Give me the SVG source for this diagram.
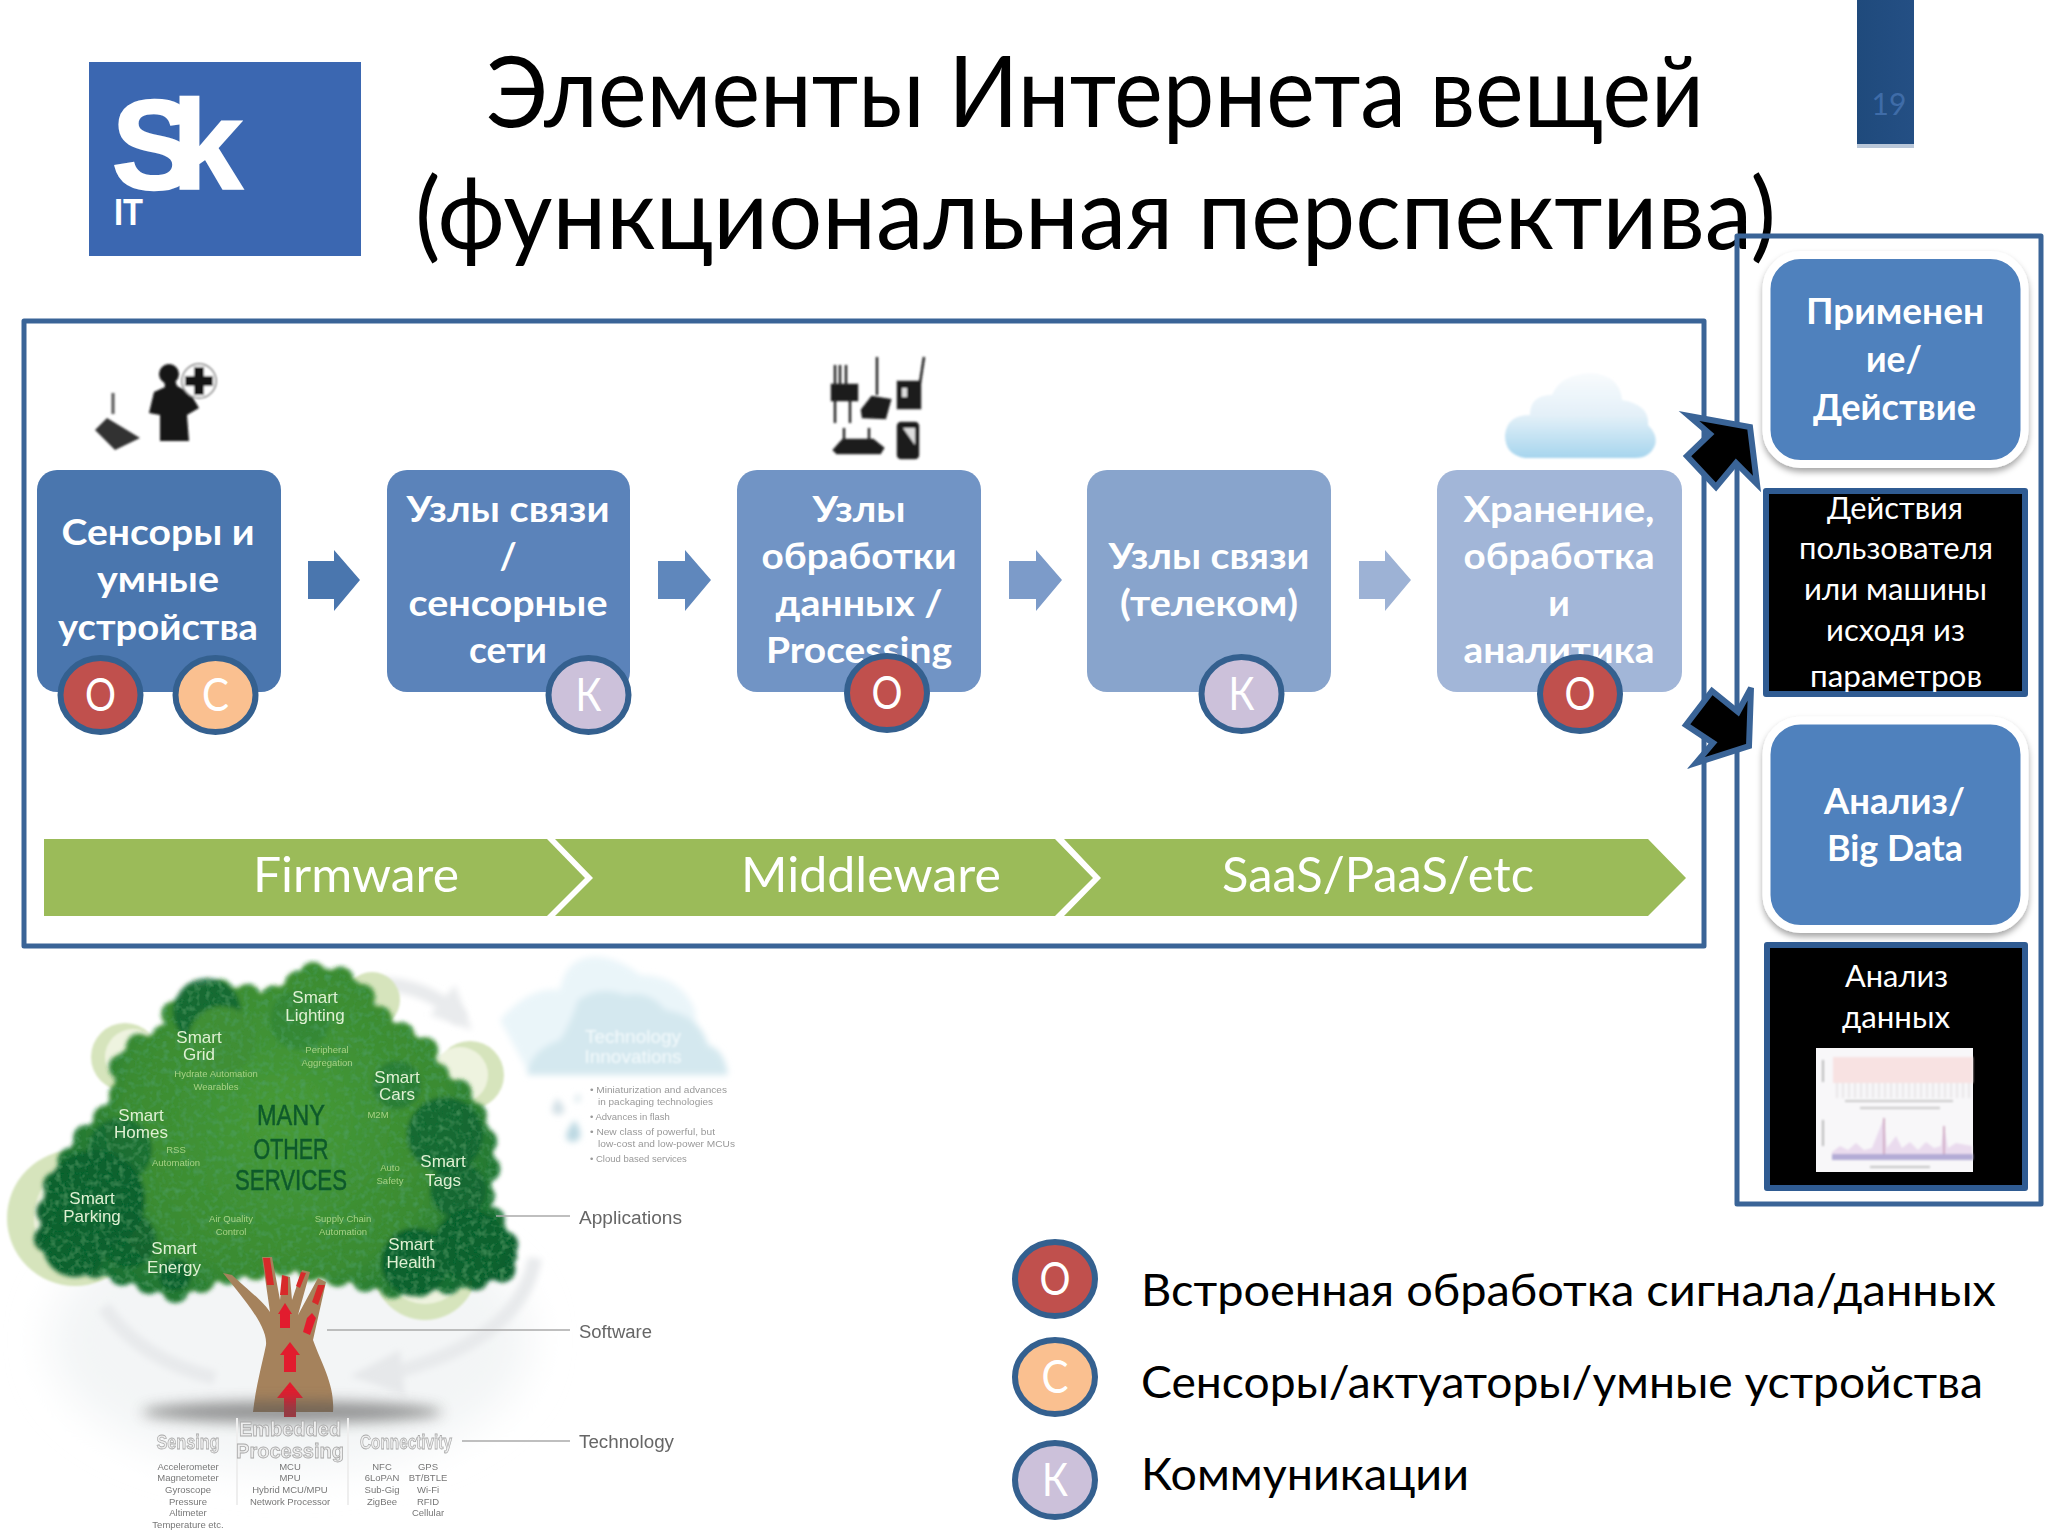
<svg xmlns="http://www.w3.org/2000/svg" width="2048" height="1536" viewBox="0 0 2048 1536">
<defs>
<style>
text{font-family:Lato,"Open Sans","Noto Sans","DejaVu Sans",sans-serif}
.mid{text-anchor:middle}
.title{font-size:98px;fill:#000}
.lbl{font-size:37px;font-weight:700;fill:#fff;text-anchor:middle}
.note{font-size:30px;fill:#fff;text-anchor:middle}
.chev{font-size:49px;fill:#fff;text-anchor:middle}
.leg{font-size:44px;fill:#000}
.bd{fill:none;stroke:#3a6497;stroke-width:5;stroke-linejoin:round}
.dot{stroke:#34608f;stroke-width:6}
.dl{font-size:46px;fill:#fff;text-anchor:middle}
.o{fill:#c0504d}.c{fill:#fac090}.k{fill:#ccc1da}
.blk{fill:#000;stroke:#2f5b92;stroke-width:6;stroke-linejoin:round}
.app{fill:#4f81bd;stroke:#fff;stroke-width:8}
.ba{fill:#000;stroke:#3a6497;stroke-width:6;stroke-linejoin:miter}
.green{fill:#9bbb59}
.tl{font-family:"Liberation Sans",sans-serif;font-size:17px;fill:#dff0d2;text-anchor:middle}
.ts{font-family:"Liberation Sans",sans-serif;font-size:9.5px;fill:#a6d184;text-anchor:middle}
.tm{font-family:"Liberation Sans",sans-serif;font-size:29px;fill:#0d5a2b;stroke:#0d5a2b;stroke-width:.5;text-anchor:middle}
.side{font-family:"Liberation Sans",sans-serif;font-size:18px;fill:#666}
.rt{font-family:"Liberation Sans",sans-serif;font-size:20px;font-weight:700;fill:#eee;stroke:#aaa;stroke-width:.8;text-anchor:middle}
.rs{font-family:"Liberation Sans",sans-serif;font-size:9.5px;fill:#777;text-anchor:middle}
.cb{font-family:"Liberation Sans",sans-serif;font-size:9.5px;fill:#999}
.dk{fill:#10622f}.gh{fill:#d6e4bc}
.ic{fill:#141414}
</style>
<filter id="b1" x="-10%" y="-10%" width="120%" height="120%"><feGaussianBlur stdDeviation="1.2"/></filter>
<filter id="b2" x="-10%" y="-10%" width="120%" height="120%"><feGaussianBlur stdDeviation=".7"/></filter>
<filter id="b3" x="-20%" y="-20%" width="140%" height="140%"><feGaussianBlur stdDeviation="3"/></filter>
<filter id="b6" x="-20%" y="-100%" width="140%" height="300%"><feGaussianBlur stdDeviation="7"/></filter>
<filter id="b20" x="-30%" y="-30%" width="160%" height="160%"><feGaussianBlur stdDeviation="20"/></filter>
<filter id="sh" x="-10%" y="-10%" width="120%" height="125%"><feDropShadow dx="0" dy="4" stdDeviation="3" flood-color="#000" flood-opacity=".35"/></filter>
<filter id="leaf" x="-5%" y="-5%" width="110%" height="110%">
<feGaussianBlur in="SourceGraphic" stdDeviation="2" result="s"/>
<feTurbulence type="fractalNoise" baseFrequency=".16" numOctaves="2" seed="4" result="n"/>
<feColorMatrix in="n" type="matrix" values="0 0 0 0 .08  0 0 0 0 .36  0 0 0 0 .14  0 0 0 1.3 -.6" result="d"/>
<feComposite in="d" in2="s" operator="in" result="t"/>
<feMerge><feMergeNode in="s"/><feMergeNode in="t"/></feMerge>
</filter>
<radialGradient id="crown" gradientUnits="userSpaceOnUse" cx="285" cy="1115" r="262"><stop offset="0" stop-color="#479a35"/><stop offset=".62" stop-color="#3a8b33"/><stop offset=".88" stop-color="#1a7032"/><stop offset="1" stop-color="#0e5f2e"/></radialGradient>
<linearGradient id="cl" x1="0" y1="0" x2="0" y2="1"><stop offset="0" stop-color="#f8fbfd"/><stop offset=".5" stop-color="#e3f0f8"/><stop offset="1" stop-color="#a6d5ee"/></linearGradient>
<linearGradient id="tab" x1="0" y1="0" x2="1" y2="0"><stop offset="0" stop-color="#1f4a7c"/><stop offset="1" stop-color="#244f84"/></linearGradient>
</defs>
<rect width="2048" height="1536" fill="#fff"/>

<g id="logo">
<rect x="89" y="62" width="272" height="194" fill="#3b67b1"/>
<text x="112" y="189" font-size="126" fill="#fff" stroke="#fff" stroke-width="2.500" letter-spacing="-24" style="font-family:'Liberation Sans',sans-serif;font-weight:700">Sk</text>
<text x="114" y="225" font-size="37" font-weight="700" fill="#fff" textLength="29" lengthAdjust="spacingAndGlyphs" style="font-family:'Liberation Sans',sans-serif">IT</text>
</g>

<g id="title">
<text class="title" x="486" y="127" textLength="1218" lengthAdjust="spacingAndGlyphs">Элементы Интернета вещей</text>
<text class="title" x="415" y="249" textLength="1361" lengthAdjust="spacingAndGlyphs">(функциональная перспектива)</text>
</g>

<g id="page-tab">
<rect x="1857" y="0" width="57" height="148" fill="#b9c7d9"/>
<rect x="1857" y="0" width="57" height="144" fill="url(#tab)"/>
<text x="1889" y="115" class="mid" font-size="30" fill="#3f6ca8">19</text>
</g>

<rect id="frame-main" class="bd" x="24" y="321" width="1680" height="625"/>
<rect id="frame-right" class="bd" x="1737" y="236" width="304" height="968"/>

<g id="icon-sensors">
<g filter="url(#b1)">
<circle class="ic" cx="169" cy="374" r="10"/>
<path class="ic" d="M164 380L175 380L177 386L190 393L199 408L187 415L189 441L160 441L160 415L149 413L154 392L165 387Z"/>
<circle cx="199" cy="381" r="17" fill="#fff" stroke="#777" stroke-width="1.5"/>
<path class="ic" d="M194 367h10v9h9v10h-9v9h-10v-9h-9v-10h9z"/>
<path d="M113 393V414" stroke="#555" stroke-width="3"/>
<path d="M95 430L107 418L140 438L115 450Z" fill="#333"/>
</g>
</g>

<g id="icon-devices">
<g filter="url(#b1)" stroke="#222" stroke-width="2.5" fill="#1c1c1c">
<path d="M835 365V423M840 365V385M846 365V385M850 400V423" fill="none"/>
<rect x="832" y="385" width="25" height="15"/>
<path d="M877 357V395" fill="none"/>
<path d="M862 410L872 397L890 400L885 418L863 417Z"/>
<rect x="898" y="382" width="22" height="26"/>
<path d="M920 383L924 357" fill="none"/>
<rect x="902" y="388" width="5" height="9" fill="#ddd" stroke="none"/>
<path d="M844 428V440M869 428V440" fill="none"/>
<path d="M834 450L843 440L873 440L883 448L880 453L837 453Z"/>
<rect x="898" y="423" width="20" height="35" rx="3"/>
<path d="M903 428H915V445Z" fill="#ddd" stroke="none"/>
</g>
</g>

<g id="icon-cloud">
<path d="M1525 458Q1505 455 1505 435Q1507 415 1530 415Q1530 395 1552 395Q1560 375 1590 373Q1620 375 1622 400Q1650 405 1648 425Q1658 435 1655 445Q1650 458 1635 458Z" fill="url(#cl)" filter="url(#b1)"/>
</g>

<g id="node-sensors">
<rect x="37" y="470" width="244" height="222" rx="20" fill="#4a76ae"/>
<text class="lbl" x="158" y="545" textLength="193" lengthAdjust="spacingAndGlyphs">Сенсоры и</text>
<text class="lbl" x="158" y="592" textLength="122" lengthAdjust="spacingAndGlyphs">умные</text>
<text class="lbl" x="158" y="640" textLength="200" lengthAdjust="spacingAndGlyphs">устройства</text>
</g>
<g id="node-comm">
<rect x="387" y="470" width="243" height="222" rx="20" fill="#5b83ba"/>
<text class="lbl" x="508" y="522" textLength="203" lengthAdjust="spacingAndGlyphs">Узлы связи</text>
<text class="lbl" x="508" y="569">/</text>
<text class="lbl" x="508" y="616" textLength="199" lengthAdjust="spacingAndGlyphs">сенсорные</text>
<text class="lbl" x="508" y="663" textLength="78" lengthAdjust="spacingAndGlyphs">сети</text>
</g>
<g id="node-processing">
<rect x="737" y="470" width="244" height="222" rx="20" fill="#7194c5"/>
<text class="lbl" x="859" y="522" textLength="93" lengthAdjust="spacingAndGlyphs">Узлы</text>
<text class="lbl" x="859" y="569" textLength="195" lengthAdjust="spacingAndGlyphs">обработки</text>
<text class="lbl" x="859" y="616" textLength="167" lengthAdjust="spacingAndGlyphs">данных /</text>
<text class="lbl" x="859" y="663" textLength="186" lengthAdjust="spacingAndGlyphs">Processing</text>
</g>
<g id="node-telecom">
<rect x="1087" y="470" width="244" height="222" rx="20" fill="#88a4cc"/>
<text class="lbl" x="1209" y="569" textLength="201" lengthAdjust="spacingAndGlyphs">Узлы связи</text>
<text class="lbl" x="1209" y="616" textLength="178" lengthAdjust="spacingAndGlyphs">(телеком)</text>
</g>
<g id="node-storage">
<rect x="1437" y="470" width="245" height="222" rx="20" fill="#a2b6d8"/>
<text class="lbl" x="1559" y="522" textLength="191" lengthAdjust="spacingAndGlyphs">Хранение,</text>
<text class="lbl" x="1559" y="569" textLength="191" lengthAdjust="spacingAndGlyphs">обработка</text>
<text class="lbl" x="1559" y="616">и</text>
<text class="lbl" x="1559" y="663" textLength="191" lengthAdjust="spacingAndGlyphs">аналитика</text>
</g>

<g id="badges">
<ellipse class="dot o" cx="100.5" cy="695" rx="40" ry="37"/><text class="dl" x="100.5" y="711" textLength="31" lengthAdjust="spacingAndGlyphs">О</text>
<ellipse class="dot c" cx="215.5" cy="695" rx="40" ry="37"/><text class="dl" x="215.5" y="711" textLength="27" lengthAdjust="spacingAndGlyphs">С</text>
<ellipse class="dot k" cx="588.5" cy="695" rx="40" ry="37"/><text class="dl" x="588.5" y="711" textLength="26" lengthAdjust="spacingAndGlyphs">К</text>
<ellipse class="dot o" cx="887" cy="693" rx="40" ry="37"/><text class="dl" x="887" y="709" textLength="31" lengthAdjust="spacingAndGlyphs">О</text>
<ellipse class="dot k" cx="1241.5" cy="694" rx="40" ry="37"/><text class="dl" x="1241.5" y="710" textLength="26" lengthAdjust="spacingAndGlyphs">К</text>
<ellipse class="dot o" cx="1580" cy="694" rx="40" ry="37"/><text class="dl" x="1580" y="710" textLength="31" lengthAdjust="spacingAndGlyphs">О</text>
</g>

<g id="lifecycle-bar">
<path class="green" d="M44 839H547L585 878L547 916H44Z"/>
<path class="green" d="M555 839H1055L1093 878L1055 916H555L593 878Z"/>
<path class="green" d="M1064 839H1648L1686 878L1648 916H1064L1101 878Z"/>
<text class="chev" x="356" y="892" textLength="206" lengthAdjust="spacingAndGlyphs">Firmware</text>
<text class="chev" x="871" y="892" textLength="260" lengthAdjust="spacingAndGlyphs">Middleware</text>
<text class="chev" x="1378" y="892" textLength="312" lengthAdjust="spacingAndGlyphs">SaaS/PaaS/etc</text>
</g>

<g id="node-action">
<rect class="app" x="1766.500" y="255" width="258" height="209" rx="34" filter="url(#sh)"/>
<text class="lbl" x="1895" y="324" textLength="178" lengthAdjust="spacingAndGlyphs">Применен</text>
<text class="lbl" x="1894" y="372" textLength="56" lengthAdjust="spacingAndGlyphs">ие/</text>
<text class="lbl" x="1894.500" y="420" textLength="163" lengthAdjust="spacingAndGlyphs">Действие</text>
</g>
<g id="note-action">
<rect class="blk" x="1766" y="491" width="259" height="203"/>
<text class="note" x="1895" y="519" textLength="136" lengthAdjust="spacingAndGlyphs">Действия</text>
<text class="note" x="1896" y="559" textLength="194" lengthAdjust="spacingAndGlyphs">пользователя</text>
<text class="note" x="1895.500" y="600" textLength="183" lengthAdjust="spacingAndGlyphs">или машины</text>
<text class="note" x="1895.500" y="641" textLength="139" lengthAdjust="spacingAndGlyphs">исходя из</text>
<text class="note" x="1896" y="687" textLength="172" lengthAdjust="spacingAndGlyphs">параметров</text>
</g>
<g id="node-analysis">
<rect class="app" x="1766.500" y="720.500" width="258" height="208.500" rx="34" filter="url(#sh)"/>
<text class="lbl" x="1894.500" y="814" textLength="141" lengthAdjust="spacingAndGlyphs">Анализ/</text>
<text class="lbl" x="1895" y="861" textLength="136" lengthAdjust="spacingAndGlyphs">Big Data</text>
</g>
<g id="note-analysis">
<rect class="blk" x="1767" y="945" width="258" height="243"/>
<text class="note" x="1896.500" y="987" textLength="103" lengthAdjust="spacingAndGlyphs">Анализ</text>
<text class="note" x="1896" y="1028" textLength="108" lengthAdjust="spacingAndGlyphs">данных</text>
<g id="chart">
<rect x="1816" y="1048" width="157" height="124" fill="#f8f7f9"/>
<g filter="url(#b1)">
<rect x="1833" y="1057" width="140" height="26" fill="#f8e2e2"/>
<path d="M1837 1083V1098M1843 1083V1098M1849 1083V1098M1855 1083V1098M1861 1083V1098M1867 1083V1098M1873 1083V1098M1879 1083V1098M1885 1083V1098M1891 1083V1098M1897 1083V1098M1903 1083V1098M1909 1083V1098M1915 1083V1098M1921 1083V1098M1927 1083V1098M1933 1083V1098M1939 1083V1098M1945 1083V1098M1951 1083V1098M1957 1083V1098M1963 1083V1098M1969 1083V1098" stroke="#d8d3d6" stroke-width="1"/>
<path d="M1845 1101H1953M1860 1108H1940" stroke="#bbb" stroke-width="1.500"/>
<rect x="1822" y="1060" width="2" height="22" fill="#bbb"/>
<rect x="1822" y="1120" width="2" height="26" fill="#bbb"/>
<path d="M1832 1152L1840 1146L1848 1150L1856 1143L1864 1150L1872 1148L1884 1118L1887 1148L1896 1136L1902 1148L1910 1142L1918 1150L1926 1142L1934 1148L1941 1146L1944 1126L1948 1148L1956 1143L1972 1146V1156H1832Z" fill="#eadbee"/>
<path d="M1884 1156V1118M1944 1156V1126" stroke="#c79ab6" stroke-width="1.500"/>
<rect x="1832" y="1154" width="141" height="6" fill="#b4acd6"/>
<path d="M1870 1167H1930" stroke="#c4c4c4" stroke-width="2"/>
</g>
</g>
</g>

<g id="legend">
<g id="legend-o"><ellipse class="dot o" cx="1055" cy="1279" rx="40" ry="37"/><text class="dl" x="1055" y="1295" textLength="31" lengthAdjust="spacingAndGlyphs">О</text>
<text class="leg" x="1141" y="1306" textLength="855" lengthAdjust="spacingAndGlyphs">Встроенная обработка сигнала/данных</text></g>
<g id="legend-c"><ellipse class="dot c" cx="1055" cy="1377" rx="40" ry="37"/><text class="dl" x="1055" y="1393" textLength="27" lengthAdjust="spacingAndGlyphs">С</text>
<text class="leg" x="1141" y="1398" textLength="842" lengthAdjust="spacingAndGlyphs">Сенсоры/актуаторы/умные устройства</text></g>
<g id="legend-k"><ellipse class="dot k" cx="1055" cy="1480" rx="40" ry="37"/><text class="dl" x="1055" y="1496" textLength="26" lengthAdjust="spacingAndGlyphs">К</text>
<text class="leg" x="1141" y="1490" textLength="328" lengthAdjust="spacingAndGlyphs">Коммуникации</text></g>
</g>

<g id="iot-tree">
<ellipse cx="290" cy="1340" rx="240" ry="130" fill="#f3f5f6" filter="url(#b20)"/>
<g fill="none" stroke="#e8eaec" stroke-width="14" filter="url(#b3)">
<path d="M104 1307Q140 1360 215 1378"/>
<path d="M535 1258Q520 1340 395 1372"/>
<path d="M379 984Q430 985 462 1020"/>
</g>
<path d="M350 1376L400 1350L405 1395Z" fill="#e6e8ea" filter="url(#b3)"/>
<path d="M455 985L472 1030L430 1015Z" fill="#e9ebed" filter="url(#b3)"/>
<g filter="url(#b1)">
<circle class="gh" cx="75" cy="1218" r="68"/>
<circle cx="92" cy="1218" r="58" fill="#eef3df"/>
<circle class="gh" cx="125" cy="1057" r="34"/>
<circle cx="133" cy="1057" r="28" fill="#eef3df"/>
<circle class="gh" cx="470" cy="1075" r="34"/>
<circle cx="460" cy="1075" r="28" fill="#eef3df"/>
<circle class="gh" cx="372" cy="1000" r="28"/>
<circle class="gh" cx="425" cy="1268" r="52"/>
<circle cx="425" cy="1262" r="42" fill="#eef3df"/>
</g>
<g filter="url(#leaf)">
<path id="crown-fill" fill="url(#crown)" stroke="url(#crown)" stroke-width="14" stroke-linejoin="round" d="M313 975C340 975 358 985 368 1008L385 1025L425 1050L435 1075L462 1095L482 1130L488 1165L480 1205L498 1228L510 1256L502 1270L466 1280L438 1282L395 1286L350 1275L327 1273L290 1262L219 1273L176 1290L131 1275L70 1258L46 1238L52 1192L82 1142L105 1120L122 1095L122 1062L140 1046L172 1035L175 1008L207 990L248 997L268 1002Z"/>
<path id="crown-edge" fill="none" stroke="url(#crown)" stroke-width="26" stroke-linecap="round" stroke-dasharray="0 28" d="M313 975C340 975 358 985 368 1008L385 1025L425 1050L435 1075L462 1095L482 1130L488 1165L480 1205L498 1228L510 1256L502 1270L466 1280L438 1282L395 1286L350 1275L327 1273L290 1262L219 1273L176 1290L131 1275L70 1258L46 1238L52 1192L82 1142L105 1120L122 1095L122 1062L140 1046L172 1035L175 1008L207 990L248 997L268 1002Z"/>
<circle class="dk" cx="207" cy="1012" r="34" opacity=".8"/>
<circle cx="222" cy="1040" r="34" fill="#3f8f34"/>
<circle class="dk" cx="95" cy="1200" r="50"/>
<circle class="dk" cx="75" cy="1245" r="32"/>
<circle class="dk" cx="128" cy="1240" r="28" opacity=".9"/>
<circle class="dk" cx="120" cy="1150" r="32" opacity=".7"/>
<circle class="dk" cx="445" cy="1135" r="38" opacity=".8"/>
<circle class="dk" cx="458" cy="1190" r="28" opacity=".8"/>
<circle class="dk" cx="470" cy="1245" r="36"/>
<circle class="dk" cx="415" cy="1262" r="34"/>
<circle cx="397" cy="1085" r="24" fill="#2c7e35"/>
<circle cx="300" cy="1020" r="30" fill="#2f8236" opacity=".6"/>
<circle cx="175" cy="1275" r="16" class="dk"/>
</g>
<g filter="url(#b2)">
<path d="M253 1412C256 1385 262 1365 266 1345C268 1325 240 1295 223 1273L232 1275C250 1292 262 1300 270 1312L262 1257L272 1257L280 1300L283 1275L290 1277L292 1300L302 1270L310 1272L298 1315L318 1278L326 1282L313 1340C322 1365 335 1385 333 1412Z" fill="#a5825c"/>
<path d="M290 1382L303 1398H296V1417H284V1398H277Z" fill="#e21f2d"/>
<path d="M290 1342L300 1355H296V1372H284V1355H280Z" fill="#e21f2d"/>
<path d="M285 1303L292 1314H290V1328H280V1314H278Z" fill="#e21f2d"/>
<path d="M312 1313L316 1318L310 1335L303 1332L307 1318Z" fill="#e21f2d"/>
<path d="M263 1258L270 1258L274 1285L267 1285Z" fill="#d72b2b"/>
<path d="M282 1275L288 1277L288 1295L280 1295Z" fill="#d72b2b"/>
<path d="M301 1272L306 1273L300 1288L296 1286Z" fill="#d72b2b"/>
<path d="M318 1285L325 1285L318 1305L312 1302Z" fill="#d72b2b"/>
</g>
<ellipse cx="292" cy="1412" rx="150" ry="11" fill="#555" opacity=".6" filter="url(#b6)"/>
<path d="M237 1418V1505M348 1418V1505" stroke="#eee" stroke-width="2"/>
<path d="M496 1216H570M327 1330H570M462 1441H570" stroke="#aaa" stroke-width="1.500" fill="none"/>
<g filter="url(#b2)">
<text class="tl" x="315" y="1003">Smart</text><text class="tl" x="315" y="1021">Lighting</text>
<text class="tl" x="199" y="1043">Smart</text><text class="tl" x="199" y="1060">Grid</text>
<text class="tl" x="397" y="1083">Smart</text><text class="tl" x="397" y="1100">Cars</text>
<text class="tl" x="141" y="1121">Smart</text><text class="tl" x="141" y="1138">Homes</text>
<text class="tl" x="443" y="1167">Smart</text><text class="tl" x="443" y="1186">Tags</text>
<text class="tl" x="92" y="1204">Smart</text><text class="tl" x="92" y="1222">Parking</text>
<text class="tl" x="174" y="1254">Smart</text><text class="tl" x="174" y="1273">Energy</text>
<text class="tl" x="411" y="1250">Smart</text><text class="tl" x="411" y="1268">Health</text>
<text class="tm" x="291" y="1125" textLength="68" lengthAdjust="spacingAndGlyphs">MANY</text>
<text class="tm" x="291" y="1159" textLength="75" lengthAdjust="spacingAndGlyphs">OTHER</text>
<text class="tm" x="291" y="1190" textLength="112" lengthAdjust="spacingAndGlyphs">SERVICES</text>
<text class="ts" x="327" y="1053">Peripheral</text><text class="ts" x="327" y="1066">Aggregation</text>
<text class="ts" x="216" y="1077">Hydrate Automation</text><text class="ts" x="216" y="1090">Wearables</text>
<text class="ts" x="378" y="1118">M2M</text>
<text class="ts" x="176" y="1153">RSS</text><text class="ts" x="176" y="1166">Automation</text>
<text class="ts" x="390" y="1171">Auto</text><text class="ts" x="390" y="1184">Safety</text>
<text class="ts" x="231" y="1222">Air Quality</text><text class="ts" x="231" y="1235">Control</text>
<text class="ts" x="343" y="1222">Supply Chain</text><text class="ts" x="343" y="1235">Automation</text>
<text class="side" x="579" y="1224" textLength="103" lengthAdjust="spacingAndGlyphs">Applications</text>
<text class="side" x="579" y="1338" textLength="73" lengthAdjust="spacingAndGlyphs">Software</text>
<text class="side" x="579" y="1448" textLength="95" lengthAdjust="spacingAndGlyphs">Technology</text>
<text class="rt" x="188" y="1449" textLength="63" lengthAdjust="spacingAndGlyphs">Sensing</text>
<text class="rt" x="290" y="1436">Embedded</text>
<text class="rt" x="290" y="1458">Processing</text>
<text class="rt" x="406" y="1449" textLength="92" lengthAdjust="spacingAndGlyphs">Connectivity</text>
</g>
<g filter="url(#b2)">
<text class="rs" x="188" y="1470">Accelerometer</text><text class="rs" x="188" y="1481">Magnetometer</text><text class="rs" x="188" y="1493">Gyroscope</text><text class="rs" x="188" y="1505">Pressure</text><text class="rs" x="188" y="1516">Altimeter</text><text class="rs" x="188" y="1528">Temperature etc.</text>
<text class="rs" x="290" y="1470">MCU</text><text class="rs" x="290" y="1481">MPU</text><text class="rs" x="290" y="1493">Hybrid MCU/MPU</text><text class="rs" x="290" y="1505">Network Processor</text>
<text class="rs" x="382" y="1470">NFC</text><text class="rs" x="382" y="1481">6LoPAN</text><text class="rs" x="382" y="1493">Sub-Gig</text><text class="rs" x="382" y="1505">ZigBee</text>
<text class="rs" x="428" y="1470">GPS</text><text class="rs" x="428" y="1481">BT/BTLE</text><text class="rs" x="428" y="1493">Wi-Fi</text><text class="rs" x="428" y="1505">RFID</text><text class="rs" x="428" y="1516">Cellular</text>
</g>
</g>

<g id="tech-cloud">
<g filter="url(#b3)">
<path d="M500 1020Q530 985 560 990Q565 960 590 957Q615 955 640 975Q680 975 695 1010L700 1075H530Z" fill="#eaf5f9"/>
<path d="M527 1075Q530 1050 560 1040Q570 1025 578 1000Q600 985 625 995Q650 990 665 1010Q700 1015 708 1045Q725 1050 728 1075Z" fill="#d4e8ef"/>
<path d="M557 1098Q566 1108 564 1112Q558 1118 552 1112Q552 1105 557 1098Z" fill="#d3e0e6"/>
<path d="M575 1120Q582 1132 580 1138Q572 1146 566 1138Q566 1130 575 1120Z" fill="#bcd8e2"/>
<path d="M578 1093Q582 1098 580 1101Q576 1104 574 1100Z" fill="#dbe8ec"/>
</g>
<g filter="url(#b1)">
<text class="mid" x="633" y="1043" font-size="19" fill="#f4fafc" style="font-family:'Liberation Sans',sans-serif">Technology</text>
<text class="mid" x="633" y="1063" font-size="19" fill="#f4fafc" style="font-family:'Liberation Sans',sans-serif">Innovations</text>
</g>
<g filter="url(#b2)">
<text class="cb" x="590" y="1093" textLength="137" lengthAdjust="spacingAndGlyphs">• Miniaturization and advances</text>
<text class="cb" x="598" y="1105" textLength="115" lengthAdjust="spacingAndGlyphs">in packaging technologies</text>
<text class="cb" x="590" y="1120">• Advances in flash</text>
<text class="cb" x="590" y="1135" textLength="125" lengthAdjust="spacingAndGlyphs">• New class of powerful, but</text>
<text class="cb" x="598" y="1147" textLength="137" lengthAdjust="spacingAndGlyphs">low-cost and low-power MCUs</text>
<text class="cb" x="590" y="1162">• Cloud based services</text>
</g>
</g>

<g id="connectors">
<path fill="#4a76ae" d="M308 561H334V550L360 580L334 611V599H308Z"/>
<path fill="#5f87bc" d="M658 561H685V550L711 580L685 611V599H658Z"/>
<path fill="#7c9bc9" d="M1009 561H1036V550L1062 580L1036 611V599H1009Z"/>
<path fill="#9db2d5" d="M1359 561H1385V550L1411 580L1385 611V599H1359Z"/>
<path class="ba" d="M1689 416L1750 427L1757 484L1736 463L1716 487L1687 456L1710 434Z"/>
<path class="ba" d="M1751 688L1749 746L1696 763L1713 743L1686 725L1712 691L1738 712Z"/>
</g>
</svg>
